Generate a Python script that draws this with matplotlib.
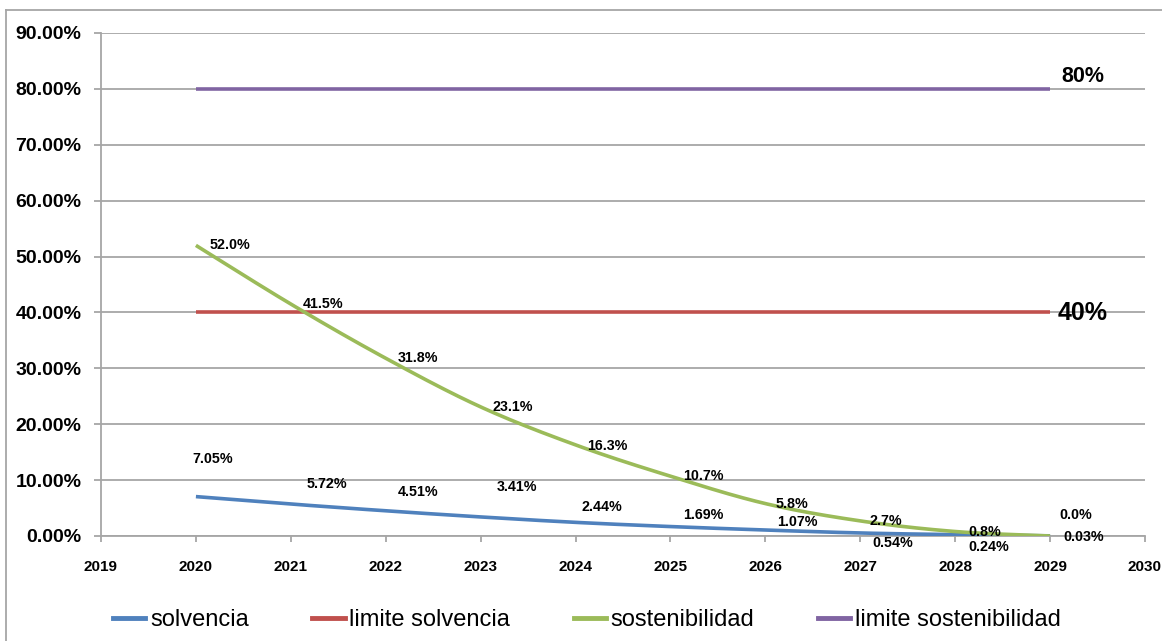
import numpy as np
import matplotlib
matplotlib.use("Agg")
import matplotlib.pyplot as plt
from matplotlib.lines import Line2D
from matplotlib.ticker import FuncFormatter, MultipleLocator

# ---- data -------------------------------------------------------------
years = [2020, 2021, 2022, 2023, 2024, 2025, 2026, 2027, 2028, 2029]
solvencia = [7.05, 5.72, 4.51, 3.41, 2.44, 1.69, 1.07, 0.54, 0.24, 0.03]
sostenibilidad = [52.0, 41.5, 31.8, 23.1, 16.3, 10.7, 5.8, 2.7, 0.8, 0.0]
limite_solvencia = 40.0
limite_sostenibilidad = 80.0
series_names = ["solvencia", "limite solvencia", "sostenibilidad", "limite sostenibilidad"]

# label offsets in pixels (dx, dy) from each data point
solv_offsets = [(-4, 38), (16, 20), (12, 19), (16, 30), (6, 15),
                (13, 12), (12, 8), (12, -10), (13, -12), (13, -1)]
sost_offsets = [(14, 0), (12, 0), (12, 0), (12, 0), (12, -1),
                (13, 0), (10, 0), (9, 0), (13, 0), (9, 21)]

BLUE, RED, GREEN, PURPLE = "#4F81BD", "#C0504D", "#9BBB59", "#8064A2"
GRID = "#A6A6A6"
FONT = ["Liberation Sans", "DejaVu Sans"]


def smooth(x, y, n=40):
    """Cubic Bezier smoothing through every point (Catmull-Rom style)."""
    x = np.asarray(x, float)
    y = np.asarray(y, float)
    px = np.concatenate([[x[0]], x, [x[-1]]])
    py = np.concatenate([[y[0]], y, [y[-1]]])
    xs, ys = [], []
    t = np.linspace(0, 1, n)
    for i in range(len(x) - 1):
        p0 = np.array([px[i + 1], py[i + 1]])
        p3 = np.array([px[i + 2], py[i + 2]])
        c1 = p0 + (np.array([px[i + 2], py[i + 2]]) - np.array([px[i], py[i]])) / 6
        c2 = p3 - (np.array([px[i + 3], py[i + 3]]) - np.array([px[i + 1], py[i + 1]])) / 6
        b = ((1 - t) ** 3)[:, None] * p0 + (3 * (1 - t) ** 2 * t)[:, None] * c1 \
            + (3 * (1 - t) * t ** 2)[:, None] * c2 + (t ** 3)[:, None] * p3
        xs.append(b[:, 0])
        ys.append(b[:, 1])
    return np.concatenate(xs), np.concatenate(ys)


W, H = 1162, 641
fig = plt.figure(figsize=(W / 100, H / 100), dpi=100)
fig.patch.set_facecolor("white")

ax = fig.add_axes([101 / W, 1 - 536 / H, (1145 - 101) / W, (536 - 33) / H])
ax.set_xlim(2019, 2030)
ax.set_ylim(0, 90)

# grid and axes
ax.yaxis.set_major_locator(MultipleLocator(10))
ax.xaxis.set_major_locator(MultipleLocator(1))
ax.grid(axis="y", color=GRID, linewidth=1.3, zorder=0)
ax.set_axisbelow(True)
for s in ["top", "right"]:
    ax.spines[s].set_visible(False)
for s in ["left", "bottom"]:
    ax.spines[s].set_color(GRID)
    ax.spines[s].set_linewidth(1.3)
ax.yaxis.set_major_formatter(FuncFormatter(lambda v, p: f"{v:.2f}%"))
ax.xaxis.set_major_formatter(FuncFormatter(lambda v, p: f"{int(v)}"))
ax.tick_params(axis="y", length=5, width=1.3, color=GRID, pad=9,
               labelsize=14)
ax.tick_params(axis="x", length=4, width=1.3, color=GRID, pad=13,
               labelsize=11)
for lab in ax.get_yticklabels() + ax.get_xticklabels():
    lab.set_fontweight("bold")
    lab.set_family(FONT)

# series
sx, sy = smooth(years, solvencia)
ax.plot(sx, sy, color=BLUE, lw=2.6, solid_capstyle="butt", zorder=3)
ax.plot([years[0], years[-1]], [limite_solvencia] * 2, color=RED, lw=2.6,
        solid_capstyle="butt", zorder=3)
gx, gy = smooth(years, sostenibilidad)
ax.plot(gx, gy, color=GREEN, lw=2.6, solid_capstyle="butt", zorder=3)
ax.plot([years[0], years[-1]], [limite_sostenibilidad] * 2, color=PURPLE,
        lw=2.6, solid_capstyle="butt", zorder=3)

# data labels
for x, v, (dx, dy) in zip(years, solvencia, solv_offsets):
    ax.annotate(f"{v:.2f}%", (x, v), xytext=(dx, dy), textcoords="offset pixels",
                ha="left", va="center", fontsize=10.3, fontweight="bold",
                family=FONT, zorder=5)
for x, v, (dx, dy) in zip(years, sostenibilidad, sost_offsets):
    ax.annotate(f"{v:.1f}%", (x, v), xytext=(dx, dy), textcoords="offset pixels",
                ha="left", va="center", fontsize=10.3, fontweight="bold",
                family=FONT, zorder=5)

# limit labels
ax.annotate(f"{limite_sostenibilidad:.0f}%", (years[-1], limite_sostenibilidad),
            xytext=(11, 12), textcoords="offset pixels", ha="left", va="center",
            fontsize=15.5, fontweight="bold", family=FONT)
ax.annotate(f"{limite_solvencia:.0f}%", (years[-1], limite_solvencia),
            xytext=(8, -1), textcoords="offset pixels", ha="left", va="center",
            fontsize=18, fontweight="bold", family=FONT)

# legend
colors = [BLUE, RED, GREEN, PURPLE]
handles = [Line2D([], [], color=c, lw=3.5) for c in colors]
leg = fig.legend(handles, series_names, loc="center",
                 bbox_to_anchor=(587 / W, 1 - 620 / H), ncol=4, frameon=False,
                 prop={"family": FONT, "size": 17}, handlelength=1.36,
                 handletextpad=0.2, columnspacing=2.7)

# chart frame
fig.add_artist(Line2D([6 / W, 1], [1 - 10 / H, 1 - 10 / H], color=GRID, lw=1.3,
                      transform=fig.transFigure))
fig.add_artist(Line2D([6 / W, 6 / W], [0, 1 - 10 / H], color=GRID, lw=1.3,
                      transform=fig.transFigure))

fig.savefig("out.png", dpi=100, facecolor="white")
